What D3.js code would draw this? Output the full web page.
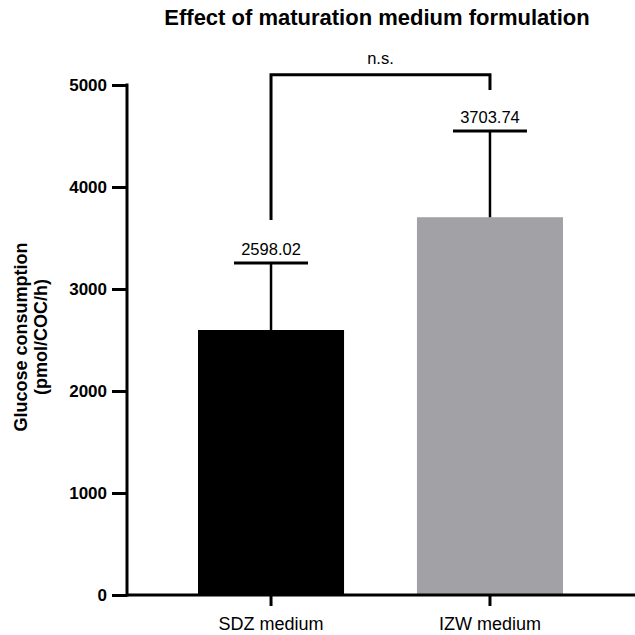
<!DOCTYPE html>
<html><head><meta charset="utf-8">
<script src="https://cdn.jsdelivr.net/npm/d3@7"></script>
<style>body{margin:0;background:#fff}svg{display:block}text{font-family:"Liberation Sans",Arial,Helvetica,sans-serif}</style>
</head><body>
<script>
const categories = ["SDZ medium", "IZW medium"];
const means = [2598.02, 3703.74];
const errUpper = [3255, 4549];
const barColors = ["#000000", "#a2a1a6"];
const yTicks = [0, 1000, 2000, 3000, 4000, 5000];
const bracketY = 5100;
const bracketLegs = [3676, 4950];
const sigLabel = "n.s.";

const W = 635, H = 635;
const FONT = '"Liberation Sans",Arial,Helvetica,sans-serif';
const svg = d3.select("body").append("svg").attr("width", W).attr("height", H);
const y = d3.scaleLinear().domain([0, 5000]).range([595, 85]);
const x = d3.scaleBand().domain(categories).range([198, 563]).paddingInner(0.333).paddingOuter(0);

// bars
svg.selectAll("rect.bar").data(categories).enter().append("rect")
  .attr("x", d => x(d)).attr("width", x.bandwidth())
  .attr("y", (d,i) => y(means[i])).attr("height", (d,i) => y(0) - y(means[i]))
  .attr("fill", (d,i) => barColors[i]);

// error bars
const capW = 74;
categories.forEach((c,i) => {
  const cx = x(c) + x.bandwidth()/2;
  svg.append("line").attr("x1", cx).attr("x2", cx).attr("y1", y(means[i])).attr("y2", y(errUpper[i]))
    .attr("stroke", "#000").attr("stroke-width", 2.5);
  svg.append("line").attr("x1", cx - capW/2).attr("x2", cx + capW/2).attr("y1", y(errUpper[i])).attr("y2", y(errUpper[i]))
    .attr("stroke", "#000").attr("stroke-width", 3);
  svg.append("text").attr("x", cx).attr("y", y(errUpper[i]) - 8).attr("text-anchor", "middle")
    .attr("font-size", 16.5).text(means[i].toFixed(2));
});

// axes
const yAxis = d3.axisLeft(y).tickValues(yTicks).tickSize(15).tickPadding(5).tickFormat(d3.format("d"));
const gy = svg.append("g").attr("transform", "translate(127,0)").call(yAxis);
gy.select(".domain").remove();
gy.selectAll(".tick line").attr("stroke-width", 3).attr("stroke", "#000");
gy.selectAll(".tick text").attr("font-size", 17).attr("font-weight", "bold").attr("fill", "#000")
  .attr("dy", "0.35em").style("font-family", FONT);
svg.append("line").attr("x1", 127).attr("x2", 127).attr("y1", y(5000) - 1.5).attr("y2", y(0) + 1.5)
  .attr("stroke", "#000").attr("stroke-width", 3);
svg.append("line").attr("x1", 127).attr("x2", 635).attr("y1", y(0)).attr("y2", y(0))
  .attr("stroke", "#000").attr("stroke-width", 3);

const xAxis = d3.axisBottom(x).tickSize(11).tickPadding(11);
const gx = svg.append("g").attr("transform", `translate(0,${y(0)})`).call(xAxis);
gx.select(".domain").remove();
gx.selectAll(".tick line").attr("stroke-width", 3).attr("stroke", "#000");
gx.selectAll(".tick text").attr("font-size", 18).attr("fill", "#000")
  .style("font-family", FONT);

// bracket
const cx0 = x(categories[0]) + x.bandwidth()/2, cx1 = x(categories[1]) + x.bandwidth()/2;
svg.append("path")
  .attr("d", `M${cx0},${y(bracketLegs[0])}V${y(bracketY)}H${cx1}V${y(bracketLegs[1])}`)
  .attr("fill", "none").attr("stroke", "#000").attr("stroke-width", 3);
svg.append("text").attr("x", (cx0+cx1)/2).attr("y", y(bracketY) - 11).attr("text-anchor", "middle")
  .attr("font-size", 16.5).text(sigLabel);

// title
svg.append("text").attr("x", 377).attr("y", 25).attr("text-anchor", "middle")
  .attr("font-size", 22).attr("font-weight", "bold").text("Effect of maturation medium formulation");

// y label
const yl = svg.append("text").attr("transform", `translate(0,337) rotate(-90)`).attr("text-anchor", "middle")
  .attr("font-size", 18).attr("font-weight", "bold");
yl.append("tspan").attr("x", 0).attr("y", 27).text("Glucose consumption");
yl.append("tspan").attr("x", 0).attr("y", 47).text("(pmol/COC/h)");
</script>
</body></html>
